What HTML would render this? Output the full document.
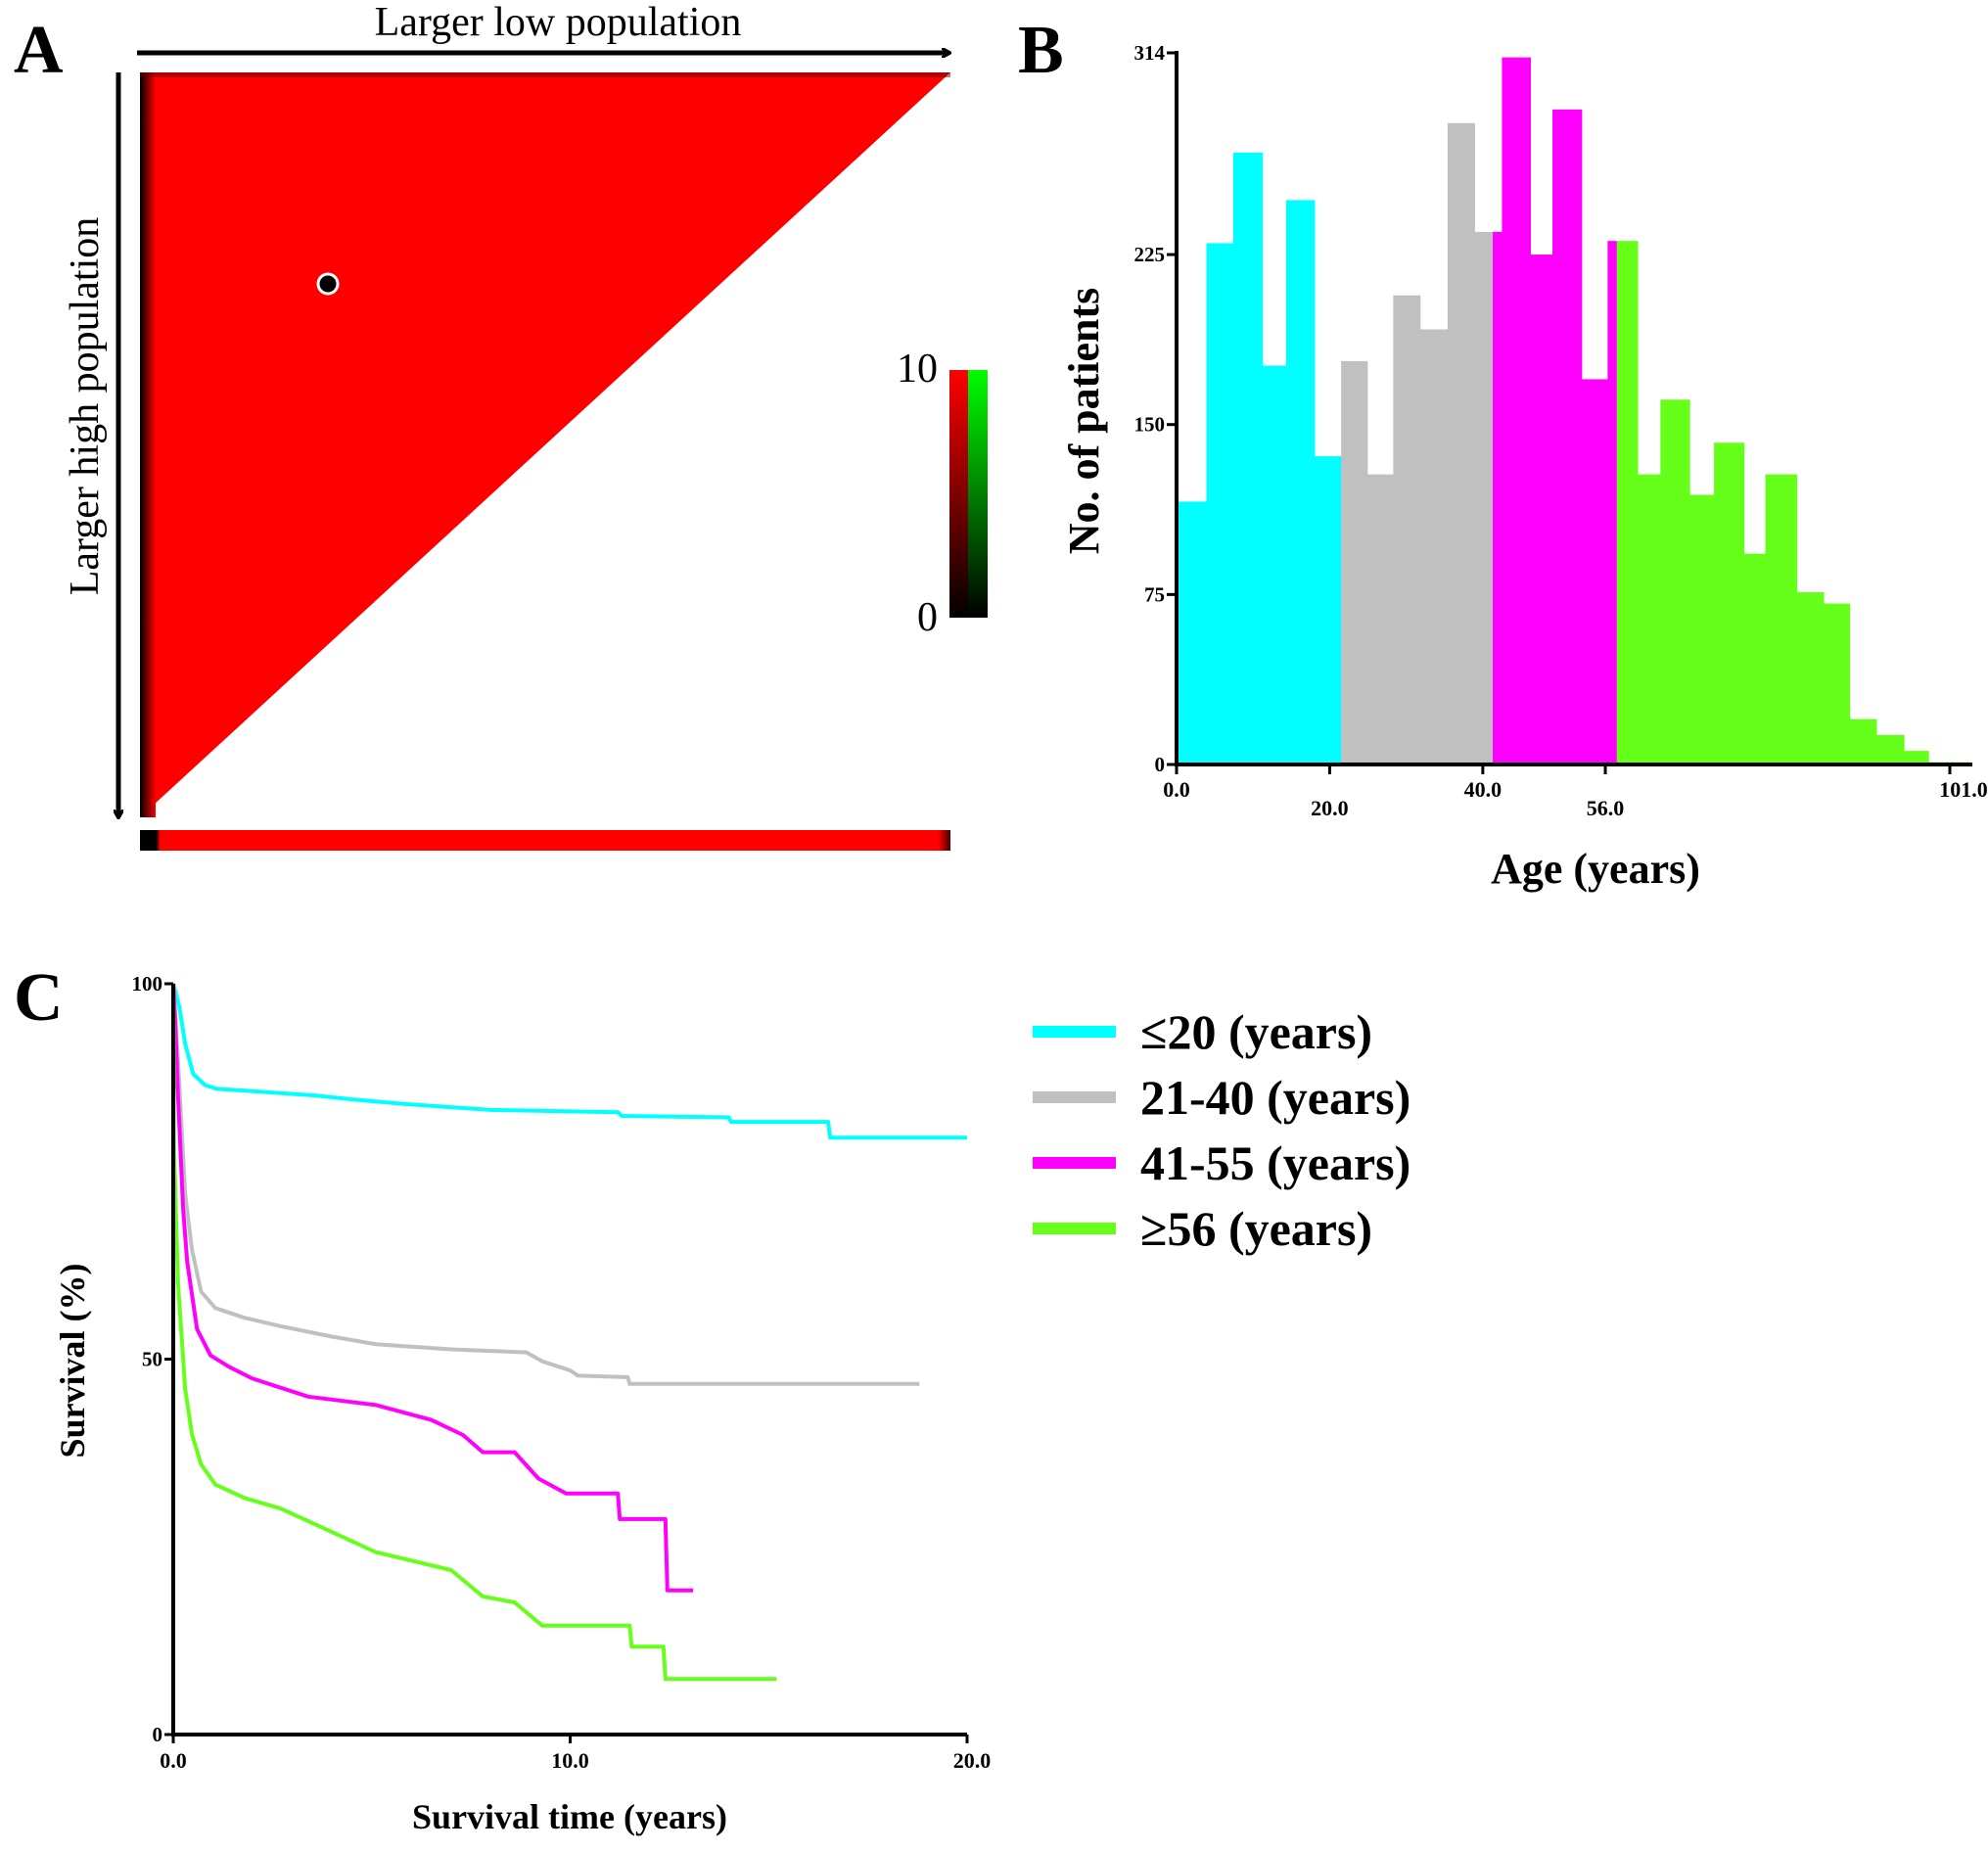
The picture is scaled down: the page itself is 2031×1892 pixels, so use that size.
<!DOCTYPE html>
<html><head><meta charset="utf-8"><style>
html,body{margin:0;padding:0;background:#fff;}
svg{display:block;font-family:"Liberation Serif",serif;}
</style></head><body>
<svg id="fig" width="2031" height="1892" viewBox="0 0 2031 1892" xmlns="http://www.w3.org/2000/svg">
<defs>
<linearGradient id="cbar" x1="0" y1="0" x2="0" y2="1"><stop offset="0" stop-color="#ff0000"/><stop offset="1" stop-color="#000"/></linearGradient>
<linearGradient id="cbar2" x1="0" y1="0" x2="0" y2="1"><stop offset="0" stop-color="#00ff00"/><stop offset="1" stop-color="#000"/></linearGradient>
<linearGradient id="lstrip" x1="0" y1="0" x2="1" y2="0"><stop offset="0" stop-color="#000"/><stop offset="1" stop-color="#ff0000"/></linearGradient>
<linearGradient id="bstrip" x1="0" y1="0" x2="1" y2="0"><stop offset="0" stop-color="#000"/><stop offset="0.02" stop-color="#000"/><stop offset="0.025" stop-color="#ff0000"/><stop offset="0.985" stop-color="#ff0000"/><stop offset="1" stop-color="#400"/></linearGradient>
<marker id="ah" markerWidth="10" markerHeight="10" refX="8" refY="5" orient="auto" markerUnits="userSpaceOnUse"><path d="M0,0 L9,5 L0,10" fill="none" stroke="#000" stroke-width="3"/></marker>
</defs>
<!-- Panel A -->
<g>
<text x="14" y="74" font-size="70" font-weight="bold">A</text>
<line x1="140" y1="54" x2="970" y2="54" stroke="#000" stroke-width="5" marker-end="url(#ah)"/>
<text x="570" y="36" font-size="42" text-anchor="middle">Larger low population</text>
<line x1="121" y1="74" x2="121" y2="835" stroke="#000" stroke-width="5" marker-end="url(#ah)"/>
<text transform="translate(100,415) rotate(-90)" font-size="42" text-anchor="middle">Larger high population</text>
<polygon points="143,74 971,74 143,835" fill="#ff0000"/>
<rect x="143" y="74" width="16" height="761" fill="url(#lstrip)"/>
<rect x="143" y="74" width="828" height="5" fill="#600" opacity="0.5"/>
<circle cx="335" cy="290" r="10" fill="#000" stroke="#fff" stroke-width="3"/>
<rect x="143" y="848" width="828" height="21" fill="url(#bstrip)"/>
<rect x="970" y="378" width="19" height="253" fill="url(#cbar)"/>
<rect x="989" y="378" width="20" height="253" fill="url(#cbar2)"/>
<text x="958" y="390" font-size="42" text-anchor="end">10</text>
<text x="958" y="644" font-size="42" text-anchor="end">0</text>
</g>
<!-- Panel B -->
<g id="pb">
<text x="1040" y="74" font-size="70" font-weight="bold">B</text>
<text transform="translate(1122,430) rotate(-90)" font-size="44" font-weight="bold" text-anchor="middle">No. of patients</text>
<text x="1630" y="902" font-size="44" font-weight="bold" text-anchor="middle">Age (years)</text>
</g>
<!-- Panel C -->
<g id="pc">
<text x="14" y="1042" font-size="70" font-weight="bold">C</text>
<text transform="translate(86,1390) rotate(-90)" font-size="36" font-weight="bold" text-anchor="middle">Survival (%)</text>
<text x="582" y="1868" font-size="36" font-weight="bold" text-anchor="middle">Survival time (years)</text>
</g>
<g id="legend"></g>
</svg>
<script>
const NS="http://www.w3.org/2000/svg";
// ---- Panel B data ----
const binEdges=[0,3.9,7.4,11.2,14.3,18.0,21.5,24.9,28.3,31.8,35.4,38.9,41.3,42.5,46.2,49.1,52.9,56.3,57.5,60.2,63.2,67.0,70.2,74.1,76.9,81.0,84.5,87.9,91.4,95.0,98.2,103.5];
const counts=[116,230,270,176,249,136,178,128,207,192,283,235,235,312,225,289,170,231,231,128,161,119,142,93,128,76,71,20,13,6,1];
const groups=[0,0,0,0,0,0,1,1,1,1,1,1,2,2,2,2,2,2,3,3,3,3,3,3,3,3,3,3,3,3,3];
const bYTicks=[0,75,150,225,314];
const bXTicks=[0,20,40,56,101];
const bXTickLabels=["0.0","20.0","40.0","56.0","101.0"];
const groupColors=["#00ffff","#c0c0c0","#ff00ff","#66ff1a"];
// ---- Panel C data ----
const cyanT=[0,0.15,0.3,0.5,0.8,1.1,2,3.6,4.5,5.8,7.4,8,11.2,11.3,14,14.05,16.5,16.55,20];
const cyanS=[100,97,92,88,86.5,86,85.7,85.1,84.6,84,83.4,83.2,82.9,82.4,82.2,81.6,81.6,79.5,79.5];
const grayT=[0,0.05,0.12,0.3,0.47,0.7,1.06,1.8,2.7,4,5.1,7,8.9,9.3,10,10.2,11.45,11.5,18.8];
const grayS=[100,96,89.6,72,64.6,59,56.8,55.5,54.4,53,52,51.3,50.9,49.7,48.5,47.8,47.6,46.7,46.7];
const magT=[0,0.05,0.12,0.25,0.35,0.6,0.94,1.4,2,3.4,5.1,6.5,7.3,7.8,8.6,9.2,9.9,11.2,11.25,12.4,12.45,13.1];
const magS=[100,95,85,70,63,54,50.5,49,47.4,45,43.9,41.9,39.9,37.6,37.6,34.1,32.1,32.1,28.7,28.7,19.2,19.2];
const greenT=[0,0.02,0.12,0.3,0.47,0.7,1.06,1.8,2.7,3.66,5.1,7,7.8,8.6,9.3,11.5,11.55,12.35,12.4,15.2];
const greenS=[100,78,60,46,40,36,33.3,31.5,30.1,27.8,24.3,21.9,18.4,17.6,14.5,14.5,11.7,11.7,7.4,7.4];
const cYTicks=[0,50,100];
const cXTicks=[0,10,20];
const cXTickLabels=["0.0","10.0","20.0"];
const legendLabels=["\u226420 (years)","21-40 (years)","41-55 (years)","\u226556 (years)"];

function mk(tag,attrs,parent){const e=document.createElementNS(NS,tag);for(const k in attrs)e.setAttribute(k,attrs[k]);parent.appendChild(e);return e;}
// Panel B axes
const bx=v=>1202+v*(1992-1202)/101;
const by=v=>781-v*(781-54)/314;
const pb=document.getElementById('pb');
for(let i=0;i<counts.length;i++){
  const r=mk('rect',{x:bx(binEdges[i]),y:by(counts[i]),width:bx(binEdges[i+1])-bx(binEdges[i])+0.6,height:by(0)-by(counts[i]),fill:groupColors[groups[i]]},pb);
  
  
}
let ax=mk('line',{x1:1202,y1:by(0),x2:2015,y2:by(0),stroke:'#000','stroke-width':4},pb);

ax=mk('line',{x1:1202,y1:by(314)-2,x2:1202,y2:by(0)+2,stroke:'#000','stroke-width':4},pb);

bYTicks.forEach(v=>{
  const t=mk('line',{x1:1192,y1:by(v),x2:1202,y2:by(v),stroke:'#000','stroke-width':3},pb);
  
  const l=mk('text',{x:1190,y:by(v)+7,'font-size':21,'font-weight':'bold','text-anchor':'end'},pb);
  l.textContent=v;
});
bXTicks.forEach((v,i)=>{
  const t=mk('line',{x1:bx(v),y1:by(0),x2:bx(v),y2:by(0)+10,stroke:'#000','stroke-width':3},pb);
  
  const l=mk('text',{x:bx(v)+(i===bXTicks.length-1?14:0),y:by(0)+(i%2===0?33:52),'font-size':22,'font-weight':'bold','text-anchor':'middle'},pb);
  l.textContent=bXTickLabels[i];
});
// Panel C
const cx=v=>177+v*(988-177)/20;
const cy=v=>1772-v*(1772-1005)/100;
const pc=document.getElementById('pc');
const series=[[cyanT,cyanS],[grayT,grayS],[magT,magS],[greenT,greenS]];
const snames=['survival-line-le20','survival-line-21-40','survival-line-41-55','survival-line-ge56'];
series.forEach((s,k)=>{
  let d='';
  for(let i=0;i<s[0].length;i++)d+=(i?'L':'M')+cx(s[0][i]).toFixed(1)+','+cy(s[1][i]).toFixed(1);
  const p=mk('path',{d:d,fill:'none',stroke:groupColors[k],'stroke-width':4,'stroke-linejoin':'round'},pc);
  
  
});
ax=mk('line',{x1:177,y1:cy(0),x2:988,y2:cy(0),stroke:'#000','stroke-width':4},pc);

ax=mk('line',{x1:177,y1:cy(100),x2:177,y2:cy(0)+2,stroke:'#000','stroke-width':4},pc);

cYTicks.forEach(v=>{
  const t=mk('line',{x1:168,y1:cy(v),x2:177,y2:cy(v),stroke:'#000','stroke-width':3},pc);
  
  const l=mk('text',{x:166,y:cy(v)+7,'font-size':21,'font-weight':'bold','text-anchor':'end'},pc);
  l.textContent=v;
});
cXTicks.forEach((v,i)=>{
  const t=mk('line',{x1:cx(v),y1:cy(0),x2:cx(v),y2:cy(0)+9,stroke:'#000','stroke-width':3},pc);
  
  const l=mk('text',{x:cx(v)+(i===2?5:0),y:cy(0)+34,'font-size':22,'font-weight':'bold','text-anchor':'middle'},pc);
  l.textContent=cXTickLabels[i];
});
const lg=document.getElementById('legend');
legendLabels.forEach((t,k)=>{
  const y=1054+k*67;
  const ln=mk('line',{x1:1055,y1:y,x2:1140,y2:y,stroke:groupColors[k],'stroke-width':12},lg);
  
  const tx=mk('text',{x:1165,y:y+17,'font-size':50,'font-weight':'bold'},lg);
  tx.textContent=t;
});
</script>
</body></html>
